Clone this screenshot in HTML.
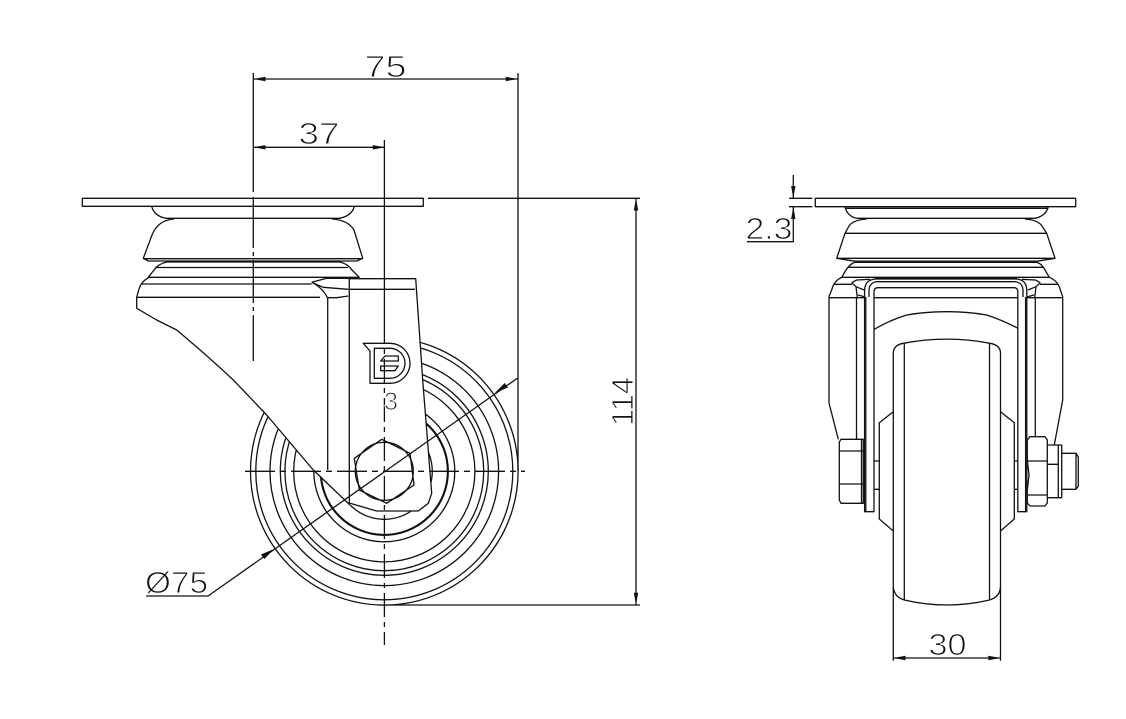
<!DOCTYPE html>
<html><head><meta charset="utf-8"><style>
html,body{margin:0;padding:0;background:#fff}
svg{display:block}
.l{fill:none;stroke:#111;stroke-width:1.3;stroke-linejoin:round}
.w{fill:#fff;stroke:none}
text{font-family:"Liberation Sans",sans-serif;font-size:31px;fill:#111;stroke:#fff;stroke-width:1}
</style></head><body>
<svg width="1126" height="719" viewBox="0 0 1126 719" xmlns="http://www.w3.org/2000/svg">
<rect width="1126" height="719" fill="#fff"/>
<g class="l">
<!-- wheel circles -->
<circle cx="384.3" cy="471.3" r="133.8"/><circle cx="384.3" cy="471.3" r="128.5"/>
<circle cx="384.3" cy="471.3" r="114.3"/><circle cx="384.3" cy="471.3" r="104"/>
<circle cx="384.3" cy="471.3" r="99.4"/><circle cx="384.3" cy="471.3" r="90.6"/>
<circle cx="384.3" cy="471.3" r="70.5"/><circle cx="384.3" cy="471.3" r="64"/><circle cx="384.3" cy="471.3" r="63.2"/>
<circle cx="384.3" cy="471.3" r="48"/>
</g>
<!-- covers -->
<polygon class="w" points="136.7,297 148,277 348,278 415.7,278.7 422.7,380 431.7,493.3 428.3,503.3 418.3,511 376.7,511 350,505 313.3,470 266.7,415 233.3,380 176.7,330 156.7,320 136.7,308.3"/>
<g class="l">
<!-- LEFT VIEW -->
<rect x="82.3" y="198.3" width="341" height="8"/>
<path d="M151.7 206.3Q154 216 166 218.3H341M354.3 206.3Q352 216 339 218.3"/>
<path d="M174 219Q158 220 152 235L143.3 258.3L148.3 261H356.7L362.7 258.3L354 230Q348 220 332 219M143.3 258.7H362.7"/>
<path d="M166.7 262H340M156.7 267.5H348M166.7 262Q158 264 154 270L148.3 277.3H359.3L352 270Q348 264 340 262"/>
<path d="M148.3 277.7Q141 282 139 289L136.7 297.3V308.3L156.7 320L176.7 330Q210 358 233.3 380L266.7 415L313.3 470L350 505"/>
<path d="M141.7 284H311.7M136.7 297.3H320"/>
<path d="M311.7 282.3L326.7 278.3H348.3M311.7 282.3L323.3 287.3L348.3 289.3M311.7 282.3Q323 288 327.7 298.3M327.7 297.7H336.7L348.3 296"/>
<path d="M327.7 298V470M349.3 278.7V505"/>
<path d="M348.3 278.7H415.7L422.7 380L431.7 493.3L428.3 503.3L418.3 511H376.7L350 503.3M348.3 289.3H415"/>
<!-- hex -->
<polygon points="381.7,439.3 410,453.3 414,485 386.7,503.3 359.3,490 354.3,458.3"/>
<circle cx="384.3" cy="471.3" r="29"/>
<!-- logo -->
<path d="M363.3 343.3H390A20 20 0 0 1 390 383.3H370V351Z"/>
<path d="M374.3 348.3H390A15 15 0 0 1 390 378.3H374.3Z"/>
<path d="M385 356H398.3V361H380.7ZM380.7 366H398.3L395 370.7H380.7Z"/>
<!-- dims left -->
<path d="M253.3 79H518M253.3 147.3H385M518 73V471M384.4 140V320"/>
<path d="M428 198.3H640M385 605H640M636 198.3V605"/>
<path d="M517.3 378.3L208 596H146"/>
<path d="M253.3 73V192M253.3 197V248M253.3 252V256M253.3 260V303M253.3 307V311M253.3 315V361"/>
<path d="M384.4 320V645" stroke-dasharray="24 5 5 5"/>
<path d="M245 471.3H525" stroke-dasharray="30 5 6 5"/>
<!-- RIGHT VIEW -->
<rect x="815.3" y="198.3" width="260.4" height="8.4"/>
<path d="M845 208.3H1048.3M845 206.7Q847 216 856.7 218.3H1036M1048.3 206.7Q1046 216 1035 218.3"/>
<path d="M866.7 219Q853 220 849 226L845 233.3L836.7 258.3L855 261.2H1037L1055 258.3L1046.7 233.3L1042 226Q1038 220 1025 219M845 233.3H1046.7M836.7 258.3H1055"/>
<path d="M855 262.3H1036.7M848.3 267.3H1043.3M855 262.3Q850 264 846 270L841.7 277.3H1049.3L1045 270Q1042 264 1036.7 262.3M875 278.7H1017"/>
<path d="M841.7 277.3Q834 281 832 289L829 296.7V403L838.3 439.3M1049.3 277.3Q1058 281 1060 289L1062.7 296.7V400L1054.3 445"/>
<path d="M833.7 284.3H852M1040 284.3H1058.3M829 297.7H864M1027 297.7H1062.3M874.3 297.7H1018.3"/>
<!-- clamp fragments -->
<path d="M851.7 282.7L856.7 280L870 279.3M851.7 282.7L856 286.7L857.3 297.7M856 286.7L864 290M864.5 296.7L858 295"/>
<path d="M1040.3 282.7L1035.3 280L1022 279.3M1040.3 282.7L1036 286.7L1034.7 297.7M1036 286.7L1028 290M1027.5 296.7L1034 295"/>
<path d="M856.5 297.7V439M1035.3 297.7V437"/>
<!-- fork -->
<path d="M864.6 511.7V290Q865 279.5 876 279H1016Q1026.5 279.5 1026.8 290V511.7H1017.8V292Q1017.8 287.7 1014 287.7H878Q874 287.7 874 292V511.7Z"/>
<path d="M865.8 297V511.7M1025.6 297V511.7"/>
<path d="M869 297V290Q869.5 283 876 281.7H1016Q1022.5 283 1023 290V297"/>
<!-- wheel top/bottom -->
<path d="M874.3 329.3Q890 320 906.7 315Q927 311.5 946.7 311.7Q967 311.5 986.7 315Q1002 320 1018 328.3"/>
<path d="M893.3 586.7V353.3Q893.3 345 903.3 343.3Q947 335 990 343.3Q1000.5 345 1000.5 353.3V586.7"/>
<path d="M904.3 343V600M989.5 343V600"/>
<path d="M893.3 586.7Q894 597 904.3 600Q947 610 989.5 600Q1000 597 1000.5 586.7"/>
<path d="M893.3 411.7L879.3 422.7V519L893.3 531M1000.5 411.7L1014.3 422.7V519L1000.5 531"/>
<path d="M874 461H879.3M874 489.3H879.3M1014.3 461H1017.8M1014.3 489.3H1017.8"/>
<!-- nuts -->
<path d="M841 439.3H863.3V503.3H841L839.3 500V442Z"/>
<path d="M839.3 451H863.3M839.3 484H863.3M861.5 439.3V503.3"/>
<path d="M1030 436.7H1045L1047.3 440V503L1045 506H1030L1027.3 503V490L1029 475L1027.3 460V440Z"/>
<path d="M1028 461H1047.3M1028 495H1047.3"/>
<path d="M1047.3 445H1061.7V497.7H1047.3M1058.3 445V497.7M1047.3 464.3H1058.3"/>
<path d="M1061.7 453.3H1076L1078.3 457V486L1076 489.3H1061.7M1076 453.3V489.3"/>
<!-- dims right -->
<path d="M893.3 587V660.7M1000.5 587V660.7M893.3 658H1000.5"/>
<path d="M793.3 175V198.3M793.3 206.7V241.7H747M789 198.3H812.3M789 206.7H812.3"/>
</g>
<!-- arrowheads -->
<g fill="#111" stroke="none">
<polygon points="253.3,79 265.5,76.8 265.5,81.2"/><polygon points="518,79 505.8,76.8 505.8,81.2"/>
<polygon points="253.3,147.3 265.5,145.1 265.5,149.5"/><polygon points="385,147.3 372.8,145.1 372.8,149.5"/>
<polygon points="636,198.3 633.8,210.5 638.2,210.5"/><polygon points="636,605 633.8,592.8 638.2,592.8"/>
<polygon points="494.5,393.3 504.7,383 508,387.5"/><polygon points="274.5,548.7 264.3,559 261,554.5"/>
<polygon points="793.3,198.3 791.1,186 795.5,186"/><polygon points="793.3,206.7 791.1,219 795.5,219"/>
<polygon points="893.3,658 905.5,655.8 905.5,660.2"/><polygon points="1000.5,658 988.3,655.8 988.3,660.2"/>
</g>
<!-- labels -->
<text x="364.5" y="77" textLength="42" lengthAdjust="spacingAndGlyphs">75</text>
<text x="298.5" y="144" textLength="41" lengthAdjust="spacingAndGlyphs">37</text>
<text x="145" y="593" textLength="63" lengthAdjust="spacingAndGlyphs">Ø75</text>
<text transform="translate(633 426) rotate(-90)" textLength="49" lengthAdjust="spacingAndGlyphs">114</text>
<text x="928.5" y="655" textLength="38" lengthAdjust="spacingAndGlyphs">30</text>
<text x="745.5" y="239" textLength="47" lengthAdjust="spacingAndGlyphs">2.3</text>
<text x="384" y="410" style="font-size:25px" textLength="14" lengthAdjust="spacingAndGlyphs">3</text>
</svg>
</body></html>
